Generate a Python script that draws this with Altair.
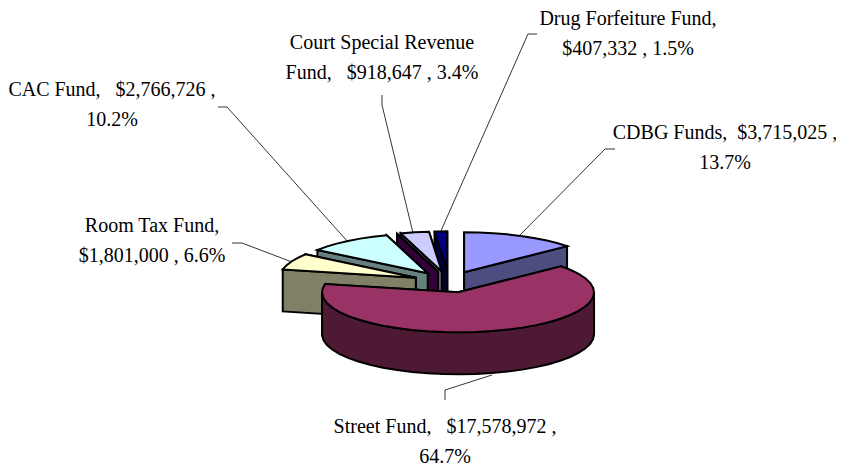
import math
import altair as alt

names = ["CDBG Funds", "Street Fund", "Room Tax Fund", "CAC Fund", "(unlabelled)", "Court Special Revenue Fund", "Drug Forfeiture Fund"]
values = [3715025, 17578972, 1801000, 2766726, 0, 918647, 407332]
tops = ["#9999FF", "#993366", "#FFFFCC", "#CCFFFF", "#660066", "#CCCCFF", "#000080"]
sides = ["#4D4D80", "#4D1933", "#808066", "#668080", "#330038", "#666680", "#000040"]
draw_order = [6, 5, 4, 3, 2, 0, 1]

label_lines = [
    ["CDBG Funds,\u00a0 $3,715,025 ,", "13.7%"],
    ["Street Fund,\u00a0\u00a0 $17,578,972 ,", "64.7%"],
    ["Room Tax Fund,", "$1,801,000 , 6.6%"],
    ["CAC Fund,\u00a0\u00a0 $2,766,726 ,", "10.2%"],
    ["Court Special Revenue", "Fund,\u00a0\u00a0 $918,647 , 3.4%"],
    ["Drug Forfeiture Fund,", "$407,332 , 1.5%"],
]
label_x = [725, 445, 152, 112, 382, 628]
label_y = [133, 427, 226, 90, 43, 19]
leaders = [
    [(615, 149), (605, 149), (520, 235)],
    [(445, 400), (445, 390), (492, 375)],
    [(232, 243), (242, 243), (292, 262)],
    [(218, 107), (227, 107), (348, 242)],
    [(382, 95), (382, 105), (413, 233)],
    [(537, 34), (528, 34), (440, 233)],
]

CX, CY, RX, RY, DEPTH, EXPLODE, STEP = 449, 282, 136, 40, 42, 0.267, 7.0
total = sum(values)


def pt(c, a):
    r = math.radians(a)
    return (c[0] + RX * math.sin(r), c[1] - RY * math.cos(r))


def down(p):
    return (p[0], p[1] + DEPTH)


def poly(coords, color, order):
    ring = [list(p) for p in coords]
    ring.append(ring[0])
    return {"type": "Feature", "geometry": {"type": "Polygon", "coordinates": [ring]},
            "properties": {"color": color, "order": order}}


features = []
spans = []
angle = 0.0
for v in values:
    spans.append((angle, angle + 360.0 * v / total))
    angle += 360.0 * v / total

order = 0
for i in draw_order:
    a0, a1 = spans[i]
    mid = math.radians((a0 + a1) / 2)
    apex = (CX + EXPLODE * RX * math.sin(mid), CY - EXPLODE * RY * math.cos(mid))
    n = max(2, int((a1 - a0) / STEP) + 1)
    angles = [a0 + (a1 - a0) * k / n for k in range(n + 1)]
    arc = [pt(apex, a) for a in angles]
    first = (apex, arc[0], down(arc[0]), down(apex))
    last = (apex, arc[-1], down(arc[-1]), down(apex))
    # the face that looks towards the viewer is painted last
    pair = [first, last] if (a0 + a1) / 2 < 180 else [last, first]
    for face in pair:
        features.append(poly(face, sides[i], order))
        order += 1
    wall_angles = [a for a in angles if 90 < a < 270]
    if a0 < 90 < a1:
        wall_angles.insert(0, 90.0)
    if a0 < 270 < a1:
        wall_angles.append(270.0)
    if len(wall_angles) > 1:
        wall = [pt(apex, a) for a in wall_angles]
        features.append(poly(wall + [down(p) for p in reversed(wall)], sides[i], order))
        order += 1
    features.append(poly([apex] + arc, tops[i], order))
    order += 1

proj = dict(type="identity", scale=1, translate=[-8, -8])

faces = alt.Chart(alt.Data(values=features)).mark_geoshape(
    stroke="#000000", strokeWidth=2, strokeJoin="miter"
).encode(
    color=alt.Color("properties.color:N", scale=None),
    order=alt.Order("properties.order:Q"),
).project(**proj)

line_rows = []
for li, path in enumerate(leaders):
    for k, (x, y) in enumerate(path):
        line_rows.append({"id": li, "k": k, "lon": x, "lat": y})

lines = alt.Chart(alt.Data(values=line_rows)).mark_line(
    color="#000000", strokeWidth=0.8
).encode(
    longitude="lon:Q", latitude="lat:Q", detail="id:N", order="k:Q"
).project(**proj)

text_rows = []
for i, ls in enumerate(label_lines):
    for j, t in enumerate(ls):
        text_rows.append({"t": t, "lon": label_x[i], "lat": label_y[i] + j * 30})

texts = alt.Chart(alt.Data(values=text_rows)).mark_text(
    font="Liberation Serif", fontSize=20, color="#000000", align="center", baseline="middle"
).encode(
    longitude="lon:Q", latitude="lat:Q", text="t:N"
).project(**proj)

chart = alt.layer(faces, lines, texts).properties(
    width=828, height=458, padding=0, autosize=alt.AutoSizeParams(type="none")
).configure_view(stroke=None)

chart.save("out.html", embed_options={"renderer": "svg", "actions": False})
